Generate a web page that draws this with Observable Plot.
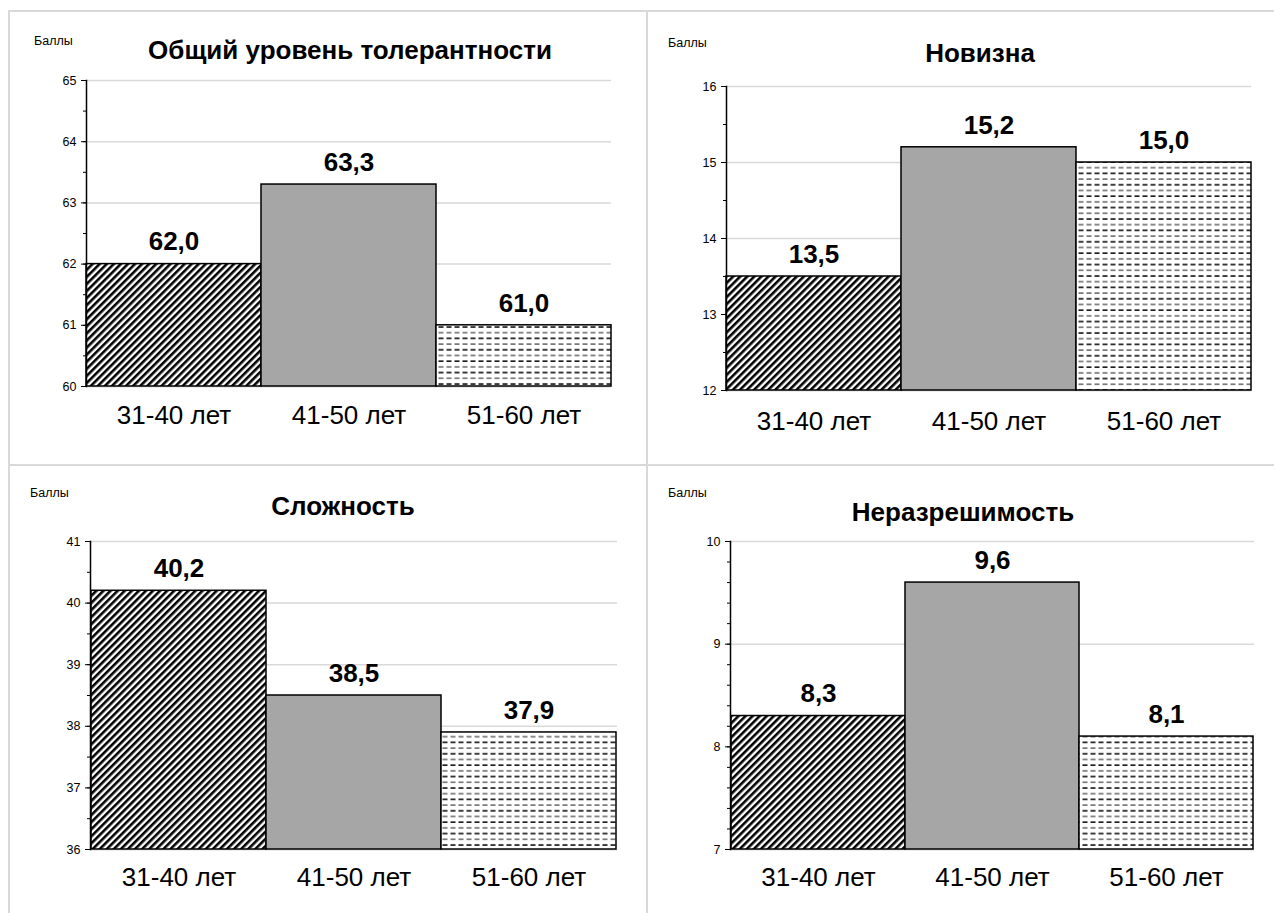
<!DOCTYPE html>
<html>
<head>
<meta charset="utf-8">
<script src="https://cdn.jsdelivr.net/npm/d3@7"></script>
<script src="https://cdn.jsdelivr.net/npm/@observablehq/plot@0.6"></script>
<style>
  html, body { margin: 0; padding: 0; background: #fff; }
  body { font-family: "Liberation Sans", Arial, sans-serif; }
  #page { position: relative; width: 1274px; height: 913px; overflow: hidden; }
  .cell { position: absolute; border-left: 2px solid #d9d9d9; border-top: 2px solid #d9d9d9; box-sizing: border-box; }
  .unit { position: absolute; font-size: 12.5px; color: #000; }
  .title { position: absolute; font-size: 26px; font-weight: bold; color: #000; transform: translate(-50%, -50%); white-space: nowrap; }
  .chart { position: absolute; }
  .chart svg { overflow: visible; }
</style>
</head>
<body>
<svg width="0" height="0" style="position:absolute">
  <defs>
    <pattern id="hatch" patternUnits="userSpaceOnUse" width="5" height="5" patternTransform="rotate(45)">
      <rect width="5" height="5" fill="#fff"></rect>
      <line x1="1.3" y1="0" x2="1.3" y2="5" stroke="#000" stroke-width="2.6"></line>
    </pattern>
    <pattern id="dashes" patternUnits="userSpaceOnUse" width="8" height="11.4">
      <rect width="8" height="11.4" fill="#fff"></rect>
      <line x1="0.5" y1="2" x2="5.5" y2="2" stroke="#000" stroke-width="1.5"></line>
      <line x1="0.5" y1="7.7" x2="5.5" y2="7.7" stroke="#666" stroke-width="1.5"></line>
    </pattern>
  </defs>
</svg>
<div id="page"></div>
<script>
// Age groups shared by every panel
const ageGroups = ["31-40 лет", "41-50 лет", "51-60 лет"];

// Mean scores per scale, one value per age group
const overallValues = [62.0, 63.3, 61.0];
const noveltyValues = [13.5, 15.2, 15.0];
const complexityValues = [40.2, 38.5, 37.9];
const insolubilityValues = [8.3, 9.6, 8.1];

// Panel titles and axis units
const panelTitles = ["Общий уровень толерантности", "Новизна", "Сложность", "Неразрешимость"];
const unitLabel = "Баллы";

// y ranges and tick steps for each panel
const yDomains = [[60, 65], [12, 16], [36, 41], [7, 10]];
const majorSteps = [1, 1, 1, 1];
const minorSteps = [0.5, 0.5, 0.5, 0.2];

// Fill per age group: diagonal hatch, solid gray, dashed rows
const groupFills = ["url(#hatch)", "#a6a6a6", "url(#dashes)"];

const panels = [
  {values: overallValues, title: panelTitles[0], ax: 86, right: 611, top: 80, bottom: 386,
   titleX: 350, titleY: 50, unitX: 34, unitY: 34, xPad: 19},
  {values: noveltyValues, title: panelTitles[1], ax: 726, right: 1251, top: 86, bottom: 390,
   titleX: 980, titleY: 53, unitX: 668, unitY: 36, xPad: 21},
  {values: complexityValues, title: panelTitles[2], ax: 90, right: 617, top: 541, bottom: 849,
   titleX: 343, titleY: 506, unitX: 30, unitY: 486, xPad: 18},
  {values: insolubilityValues, title: panelTitles[3], ax: 730, right: 1254, top: 541, bottom: 849,
   titleX: 963, titleY: 512, unitX: 668, unitY: 486, xPad: 18}
];

const page = document.getElementById("page");

// Grid of cells with light borders
[[8, 10], [646, 10], [8, 464], [646, 464]].forEach(([l, t]) => {
  const c = document.createElement("div");
  c.className = "cell";
  c.style.left = l + "px";
  c.style.top = t + "px";
  c.style.width = "640px";
  c.style.height = (t === 10 ? 456 : 460) + "px";
  page.appendChild(c);
});

const fmt = v => d3.format(".1f")(v).replace(".", ",");

panels.forEach((p, i) => {
  const [y0, y1] = yDomains[i];
  const data = ageGroups.map((g, k) => ({group: g, value: p.values[k]}));
  const major = d3.range(y0, y1 + 1e-9, majorSteps[i]);
  const minor = d3.range(y0, y1 + 1e-9, minorSteps[i]).map(v => +v.toFixed(3));

  const mL = 40, mR = 10, mT = 40, mB = 60;
  const width = (p.right - p.ax) + mL + mR;
  const height = (p.bottom - p.top) + mT + mB;

  const chart = Plot.plot({
    width, height,
    marginLeft: mL, marginRight: mR, marginTop: mT, marginBottom: mB,
    style: {fontFamily: "'Liberation Sans', Arial, sans-serif", color: "#000", background: "transparent"},
    x: {domain: ageGroups, padding: 0, label: null},
    y: {domain: [y0, y1], label: null},
    color: {type: "ordinal", domain: ageGroups, range: groupFills},
    marks: [
      Plot.gridY(major.slice(1), {stroke: "#d9d9d9", strokeOpacity: 1, strokeWidth: 1.5}),
      Plot.ruleY([y0], {stroke: "#d9d9d9", strokeWidth: 2}),
      Plot.barY(data, {x: "group", y1: y0, y2: "value", fill: "group", stroke: "#000", strokeWidth: 1.5}),
      Plot.text(data, {x: "group", y: "value", text: d => fmt(d.value), dy: -22,
        fontSize: 26, fontWeight: "bold", fill: "#000"}),
      Plot.axisY(minor, {tickSize: 3, text: null, stroke: "#000"}),
      Plot.axisY(major, {tickSize: 5, tickPadding: 5, fontSize: 12.5, stroke: "#000", tickFormat: d => String(d)}),
      Plot.frame({anchor: "left", stroke: "#000", strokeWidth: 1.5}),
      Plot.axisX({tickSize: 0, tickPadding: p.xPad, fontSize: 26})
    ]
  });
  const wrap = document.createElement("div");
  wrap.className = "chart";
  wrap.style.left = (p.ax - mL) + "px";
  wrap.style.top = (p.top - mT) + "px";
  wrap.appendChild(chart);
  page.appendChild(wrap);

  const u = document.createElement("div");
  u.className = "unit";
  u.textContent = unitLabel;
  u.style.left = p.unitX + "px";
  u.style.top = p.unitY + "px";
  page.appendChild(u);

  const t = document.createElement("div");
  t.className = "title";
  t.textContent = p.title;
  t.style.left = p.titleX + "px";
  t.style.top = p.titleY + "px";
  page.appendChild(t);
});
</script>
</body>
</html>
